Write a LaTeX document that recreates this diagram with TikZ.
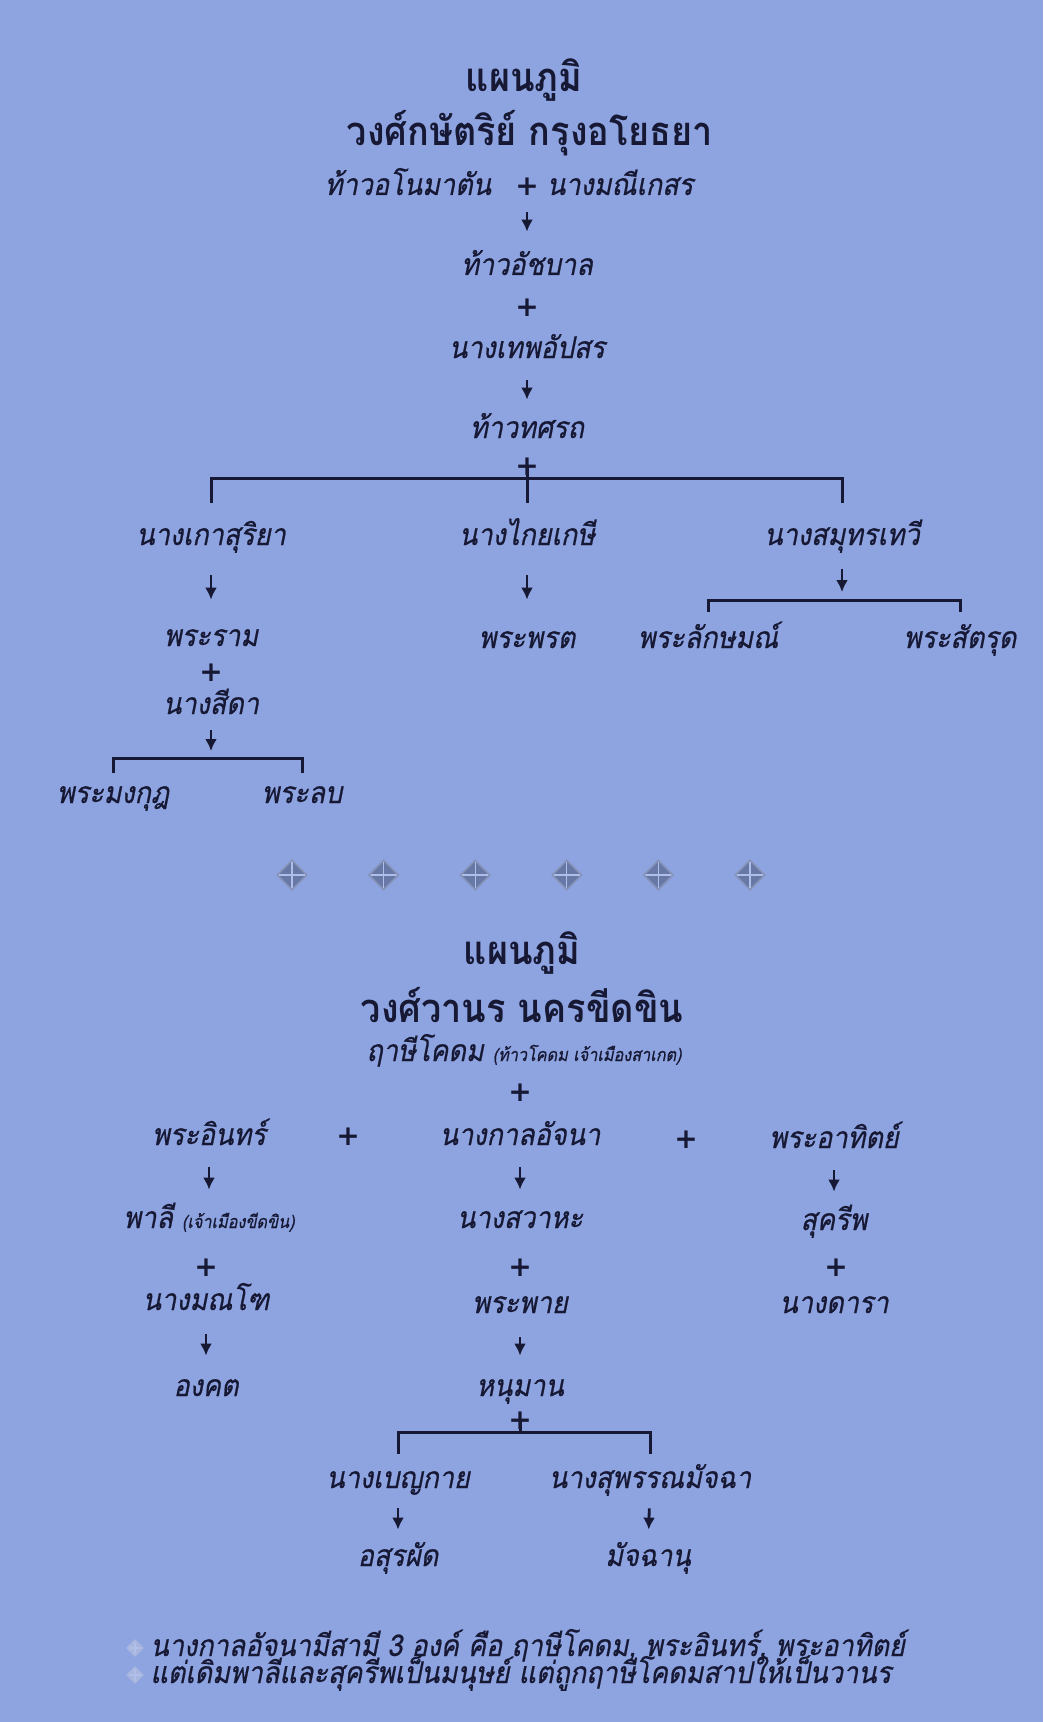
\documentclass[tikz,border=0pt]{standalone}
\usepackage{fontspec}
\usetikzlibrary{shapes.geometric,arrows.meta}
\newfontfamily\thaifont[Script=Thai,FakeSlant=0.2,FakeStretch=0.9,FakeBold=0.6]{Loma}
\newfontfamily\thaihead[Script=Thai,FakeStretch=0.9]{Loma}
\newfontfamily\plusfont{DejaVu Sans}
\definecolor{bg}{RGB}{142,164,225}
\definecolor{ink}{RGB}{22,24,52}
\definecolor{ornc}{RGB}{104,120,166}
\definecolor{mark}{RGB}{168,182,222}
\begin{document}
\begin{tikzpicture}[x=0.5pt,y=-0.5pt]
  \tikzset{ nm/.style={ink,font=\thaifont\fontsize{15}{18}\selectfont,inner sep=0pt,text height=12pt,text depth=4pt},
    pl/.style={ink,font=\plusfont\bfseries\fontsize{14}{14}\selectfont,inner sep=0pt},
    hd/.style={ink,font=\thaihead\bfseries\fontsize{20}{24}\selectfont,inner sep=0pt},
    br/.style={ink,line width=1.5pt},
    arr/.style={-{Latex[length=6pt,width=6pt]},ink,line width=1.4pt,shorten <=7pt,shorten >=7pt},
    orn/.style={diamond,fill=ornc,draw=ornc!80!white,line width=0.8pt,minimum size=15pt,inner sep=0pt,
      path picture={\draw[bg!70!white,line width=0.6pt] (path picture bounding box.north) -- (path picture bounding box.south)
        (path picture bounding box.west) -- (path picture bounding box.east);}},
  }
  \fill[bg] (0,0) rectangle (1043,1722);

  \node[hd] (T1) at (524,80) {แผนภูมิ};
  \node[hd] (T2) at (530,133) {วงศ์กษัตริย์ กรุงอโยธยา};
  \node[nm] (a1) at (408,187) {ท้าวอโนมาตัน};
  \node[pl] (p1) at (527,187) {+};
  \node[nm] (a2) at (620,187) {นางมณีเกสร};
  \node[nm] (b1) at (527,267) {ท้าวอัชบาล};
  \node[pl] (p2) at (527,308) {+};
  \node[nm] (b2) at (527,350) {นางเทพอัปสร};
  \node[nm] (c) at (527,430) {ท้าวทศรถ};
  \node[pl] (p3) at (527,467) {+};
  \node[nm] (d1) at (211,537) {นางเกาสุริยา};
  \node[nm] (d2) at (527,537) {นางไกยเกษี};
  \node[nm] (d3) at (842,537) {นางสมุทรเทวี};
  \node[nm] (e1) at (211,638) {พระราม};
  \node[nm] (e2) at (527,640) {พระพรต};
  \node[nm] (e3) at (708,640) {พระลักษมณ์};
  \node[nm] (e4) at (960,640) {พระสัตรุด};
  \node[pl] (p4) at (211,673) {+};
  \node[nm] (f) at (211,706) {นางสีดา};
  \node[nm] (g1) at (113,795) {พระมงกุฎ};
  \node[nm] (g2) at (302,795) {พระลบ};
  \coordinate (j1) at (527,478);
  \coordinate (j2) at (842,600);
  \coordinate (j3) at (211,758);

  \draw[arr,shorten <=8pt,shorten >=9.5pt] (p1) -- (b1);
  \draw[arr] (b2) -- (c);
  \draw[br] (p3.center) -- ([yshift=9pt]d2.north);
  \draw[br] ([yshift=9pt]d1.north) |- (j1) -| ([yshift=9pt]d3.north);
  \draw[arr,shorten <=11pt,shorten >=11pt] (d1) -- (e1);
  \draw[arr,shorten <=11pt,shorten >=12pt] (d2) -- (e2);
  \draw[arr,shorten <=8pt,shorten >=4pt] (d3) -- (j2);
  \draw[br] ([yshift=6pt]e3.north) |- (j2) -| ([yshift=6pt]e4.north);
  \draw[arr,shorten <=4pt,shorten >=3.5pt] (f) -- (j3);
  \draw[br] ([yshift=3pt]g1.north) |- (j3) -| ([yshift=3pt]g2.north);

  \foreach \i in {0,...,5}
    \node[orn] (o\i) at (292+91.6*\i,875) {};

  \node[hd] (T3) at (522,953) {แผนภูมิ};
  \node[hd] (T4) at (522,1005) {วงศ์วานร นครขีดขิน};
  \node[nm] (k) at (524,1053) {ฤาษีโคดม {\fontsize{9}{10}\selectfont (ท้าวโคดม เจ้าเมืองสาเกต)}};
  \node[pl] (p5) at (520,1093) {+};
  \node[nm] (m1) at (209,1137) {พระอินทร์};
  \node[pl] (p6) at (348,1137) {+};
  \node[nm] (m2) at (520,1137) {นางกาลอัจนา};
  \node[pl] (p7) at (686,1140) {+};
  \node[nm] (m3) at (834,1140) {พระอาทิตย์};
  \node[nm] (q1) at (209,1220) {พาลี {\fontsize{9}{10}\selectfont (เจ้าเมืองขีดขิน)}};
  \node[nm] (q2) at (520,1220) {นางสวาหะ};
  \node[nm] (q3) at (834,1222) {สุครีพ};
  \node[pl] (p8) at (206,1268) {+};
  \node[pl] (p9) at (520,1268) {+};
  \node[pl] (p10) at (836,1268) {+};
  \node[nm] (r1) at (206,1302) {นางมณโฑ};
  \node[nm] (r2) at (520,1305) {พระพาย};
  \node[nm] (r3) at (834,1305) {นางดารา};
  \node[nm] (s1) at (206,1388) {องคต};
  \node[nm] (s2) at (520,1388) {หนุมาน};
  \node[pl] (p11) at (520,1421) {+};
  \node[nm] (u1) at (398,1480) {นางเบญกาย};
  \node[nm] (u2) at (650,1480) {นางสุพรรณมัจฉา};
  \node[nm] (v1) at (398,1558) {อสุรผัด};
  \node[nm] (v2) at (648,1558) {มัจฉานุ};
  \coordinate (j4) at (520,1432);

  \draw[arr] (m1) -- (q1);
  \draw[arr] (m2) -- (q2);
  \draw[arr] (m3) -- (q3);
  \draw[arr,shorten <=8pt,shorten >=8pt] (r1) -- (s1);
  \draw[arr,shorten <=8pt,shorten >=8pt] (r2) -- (s2);
  \draw[br] (p11.center) -- (j4);
  \draw[br] ([yshift=5pt]u1.north) |- (j4) -| ([yshift=5pt]u2.north);
  \draw[arr,shorten <=6pt,shorten >=6pt] (u1) -- (v1);
  \draw[arr,shorten <=6pt,shorten >=6pt] (u2) -- (v2);

  \node[orn,fill=mark,draw=mark,minimum size=8pt] (x1) at (135,1648) {};
  \node[nm,anchor=west] (y1) at (150,1648) {นางกาลอัจนามีสามี 3 องค์ คือ ฤาษีโคดม, พระอินทร์, พระอาทิตย์};
  \node[orn,fill=mark,draw=mark,minimum size=8pt] (x2) at (135,1675) {};
  \node[nm,anchor=west] (y2) at (150,1675) {แต่เดิมพาลีและสุครีพเป็นมนุษย์ แต่ถูกฤาษีโคดมสาปให้เป็นวานร};
\end{tikzpicture}
\end{document}
